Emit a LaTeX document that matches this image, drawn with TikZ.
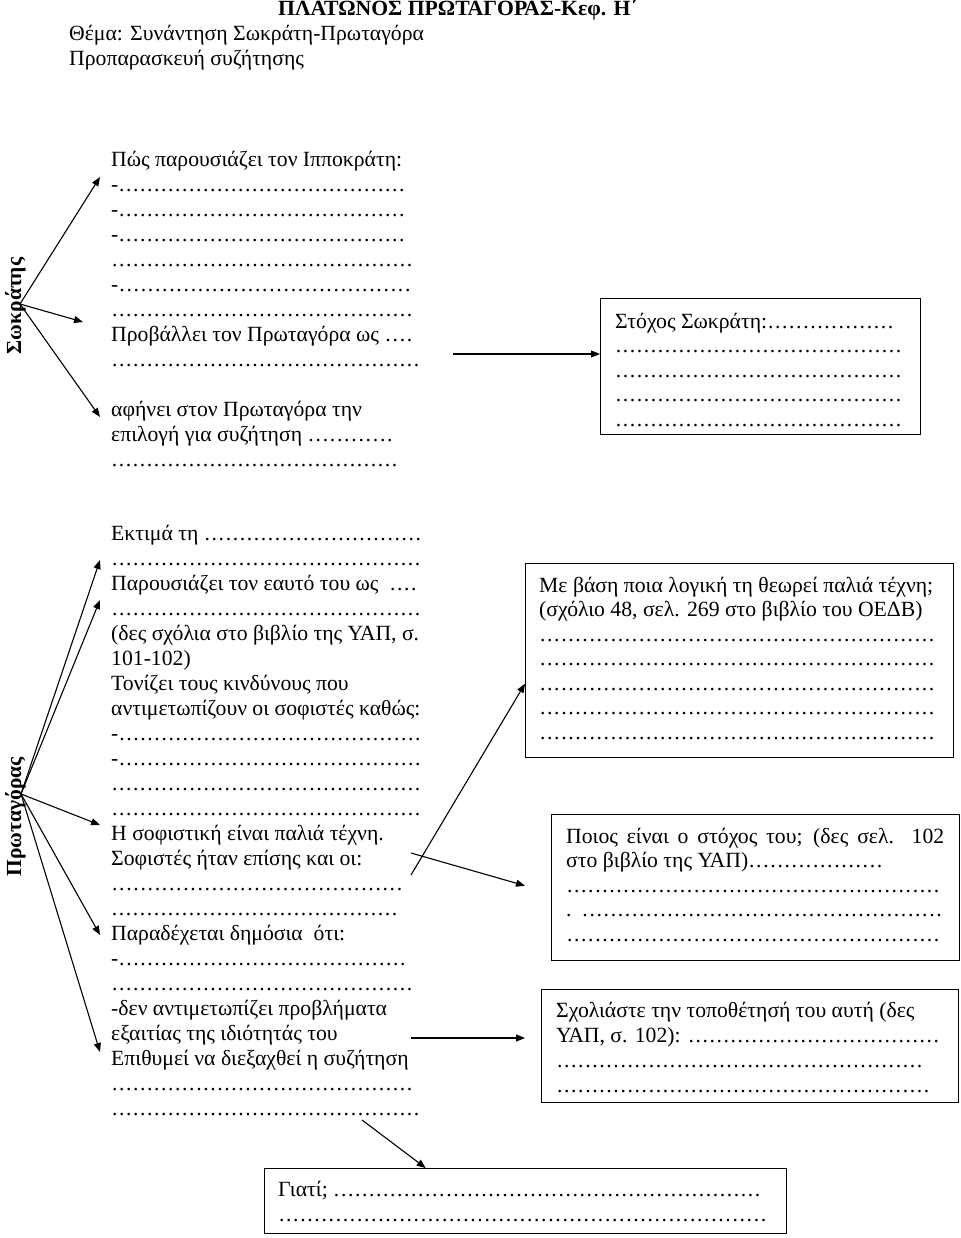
\documentclass[tikz,border=0pt]{standalone}
\usepackage{fontspec}
\setmainfont{Liberation Serif}
\usetikzlibrary{arrows.meta,calc}
\newcommand\dl[1]{\hbox to #1pt{\xleaders\hbox to 7pt{\hss.\hss}\hfill}}
\tikzset{
  txt/.style={anchor=base west, inner sep=0pt, align=left, font=\fontsize{21.7}{25}\selectfont},
  boxtxt/.style={txt},
  vlab/.style={rotate=90, anchor=base, inner sep=0pt, font=\fontsize{21.5}{25}\selectfont\bfseries},
  box/.style={draw, line width=1.4pt, anchor=north west, inner sep=0pt},
  arr/.style={-{Triangle[length=9pt,width=7pt]}, line width=1.1pt}
}
\begin{document}
\begin{tikzpicture}[x=1pt,y=-1pt]
\useasboundingbox (0,0) rectangle (960,1238);
\fill[white] (0,0) rectangle (960,1238);
% header (multi-line nodes are placed by the baseline of their last line)
\node[txt, font=\fontsize{21.7}{25}\selectfont\bfseries] (title) at (278,16) {ΠΛΑΤΩΝΟΣ ΠΡΩΤΑΓΟΡΑΣ-Κεφ. Η΄};
\node[txt, font=\fontsize{21.7}{24.5}\selectfont] (theme) at (69,65.5) {Θέμα: Συνάντηση Σωκράτη-Πρωταγόρα\\Προπαρασκευή συζήτησης};
% Socrates
\node[vlab] (soc) at (21,306) {Σωκράτης};
\node[txt] (stext) at (111,466) {Πώς παρουσιάζει τον Ιπποκράτη:\\
-\dl{287}\\
-\dl{287}\\
-\dl{287}\\
\dl{302}\\
-\dl{293}\\
\dl{302}\\
Προβάλλει τον Πρωταγόρα ως \dl{29}\\
\dl{309}\\
\mbox{}\\
αφήνει στον Πρωταγόρα την\\
επιλογή για συζήτηση \dl{86}\\
\dl{287}};
\coordinate (so) at (20,304);
\coordinate (st1) at (100,177);
\coordinate (st2) at (83,322);
\coordinate (st3) at (100,417);
\draw[arr] (so) -- (st1);
\draw[arr] (so) -- (st2);
\draw[arr] (so) -- (st3);
% goal box
\node[box, minimum width=320pt, minimum height=136pt] (box0) at (600,298) {};
\node[boxtxt, font=\fontsize{21.7}{24.5}\selectfont] (b0t) at (615,426) {Στόχος Σωκράτη:\dl{127}\\
\dl{287}\\
\dl{287}\\
\dl{287}\\
\dl{287}};
\coordinate (g0) at (453,354);
\draw[arr] (g0) -- (g0 -| box0.west);
% Protagoras
\node[vlab] (prot) at (21,817) {Πρωταγόρας};
\node[txt] (ptext) at (111,1115) {Εκτιμά τη \dl{218}\\
\dl{310}\\
Παρουσιάζει τον εαυτό του ως\ \ \dl{28}\\
\dl{310}\\
(δες σχόλια στο βιβλίο της ΥΑΠ, σ.\\
101-102)\\
Τονίζει τους κινδύνους που\\
αντιμετωπίζουν οι σοφιστές καθώς:\\
-\dl{303}\\
-\dl{303}\\
\dl{310}\\
\dl{310}\\
Η σοφιστική είναι παλιά τέχνη.\\
Σοφιστές ήταν επίσης και οι:\\
\dl{292}\\
\dl{287}\\
Παραδέχεται δημόσια\ \ ότι:\\
-\dl{288}\\
\dl{302}\\
-δεν αντιμετωπίζει προβλήματα\\
εξαιτίας της ιδιότητάς του\\
Επιθυμεί να διεξαχθεί η συζήτηση\\
\dl{302}\\
\dl{309}};
\coordinate (po) at (21,794);
\coordinate (pt1) at (100,560);
\coordinate (pt2) at (100,600);
\coordinate (pt3) at (100,825);
\coordinate (pt4) at (100,935);
\coordinate (pt5) at (100,1052);
\foreach \t in {pt1,pt2,pt3,pt4,pt5} \draw[arr] (po) -- (\t);
% box 1
\node[box, minimum width=428pt, minimum height=194pt] (box1) at (525,563) {};
\node[boxtxt, font=\fontsize{21.7}{24.5}\selectfont] (b1t) at (539,739) {Με βάση ποια λογική τη θεωρεί παλιά τέχνη;\\
(σχόλιο 48, σελ. 269 στο βιβλίο του ΟΕΔΒ)\\
\dl{396}\\
\dl{396}\\
\dl{396}\\
\dl{396}\\
\dl{396}};
% box 2
\node[box, minimum width=408pt, minimum height=146pt] (box2) at (551,814) {};
\node[boxtxt, font=\fontsize{21.7}{24.5}\selectfont] (b2t) at (566,941) {\makebox[378pt][s]{Ποιος είναι ο στόχος του; (δες σελ. 102}\\
στο βιβλίο της ΥΑΠ)\dl{135}\\
\dl{374}\\
.\hspace{10pt}\dl{361}\\
\dl{374}};
% box 3
\node[box, minimum width=417pt, minimum height=113pt] (box3) at (541,989) {};
\node[boxtxt, font=\fontsize{21.7}{24.7}\selectfont] (b3t) at (556,1092) {Σχολιάστε την τοποθέτησή του αυτή (δες\\
ΥΑΠ, σ. 102): \dl{252}\\
\dl{367}\\
\dl{374}};
% box 4
\node[box, minimum width=522pt, minimum height=65pt] (box4) at (264,1168) {};
\node[boxtxt] (b4t) at (278,1221) {Γιατί; \dl{428}\\
\dl{489}};
% connectors to right boxes
\coordinate (c1) at (411,875);
\coordinate (c2) at (411,853);
\coordinate (c3) at (411,1038);
\coordinate (c4) at (362,1120);
\coordinate (t3) at ([xshift=-16pt]box3.west);
\draw[arr] (c1) -- ([yshift=-23pt]box1.west);
\draw[arr] (c2) -- ([xshift=-26pt,yshift=2pt]box2.west);
\draw[arr] (c3) -- (c3 -| t3);
\draw[arr] (c4) -- ([xshift=-100pt]box4.north);
\end{tikzpicture}
\end{document}
